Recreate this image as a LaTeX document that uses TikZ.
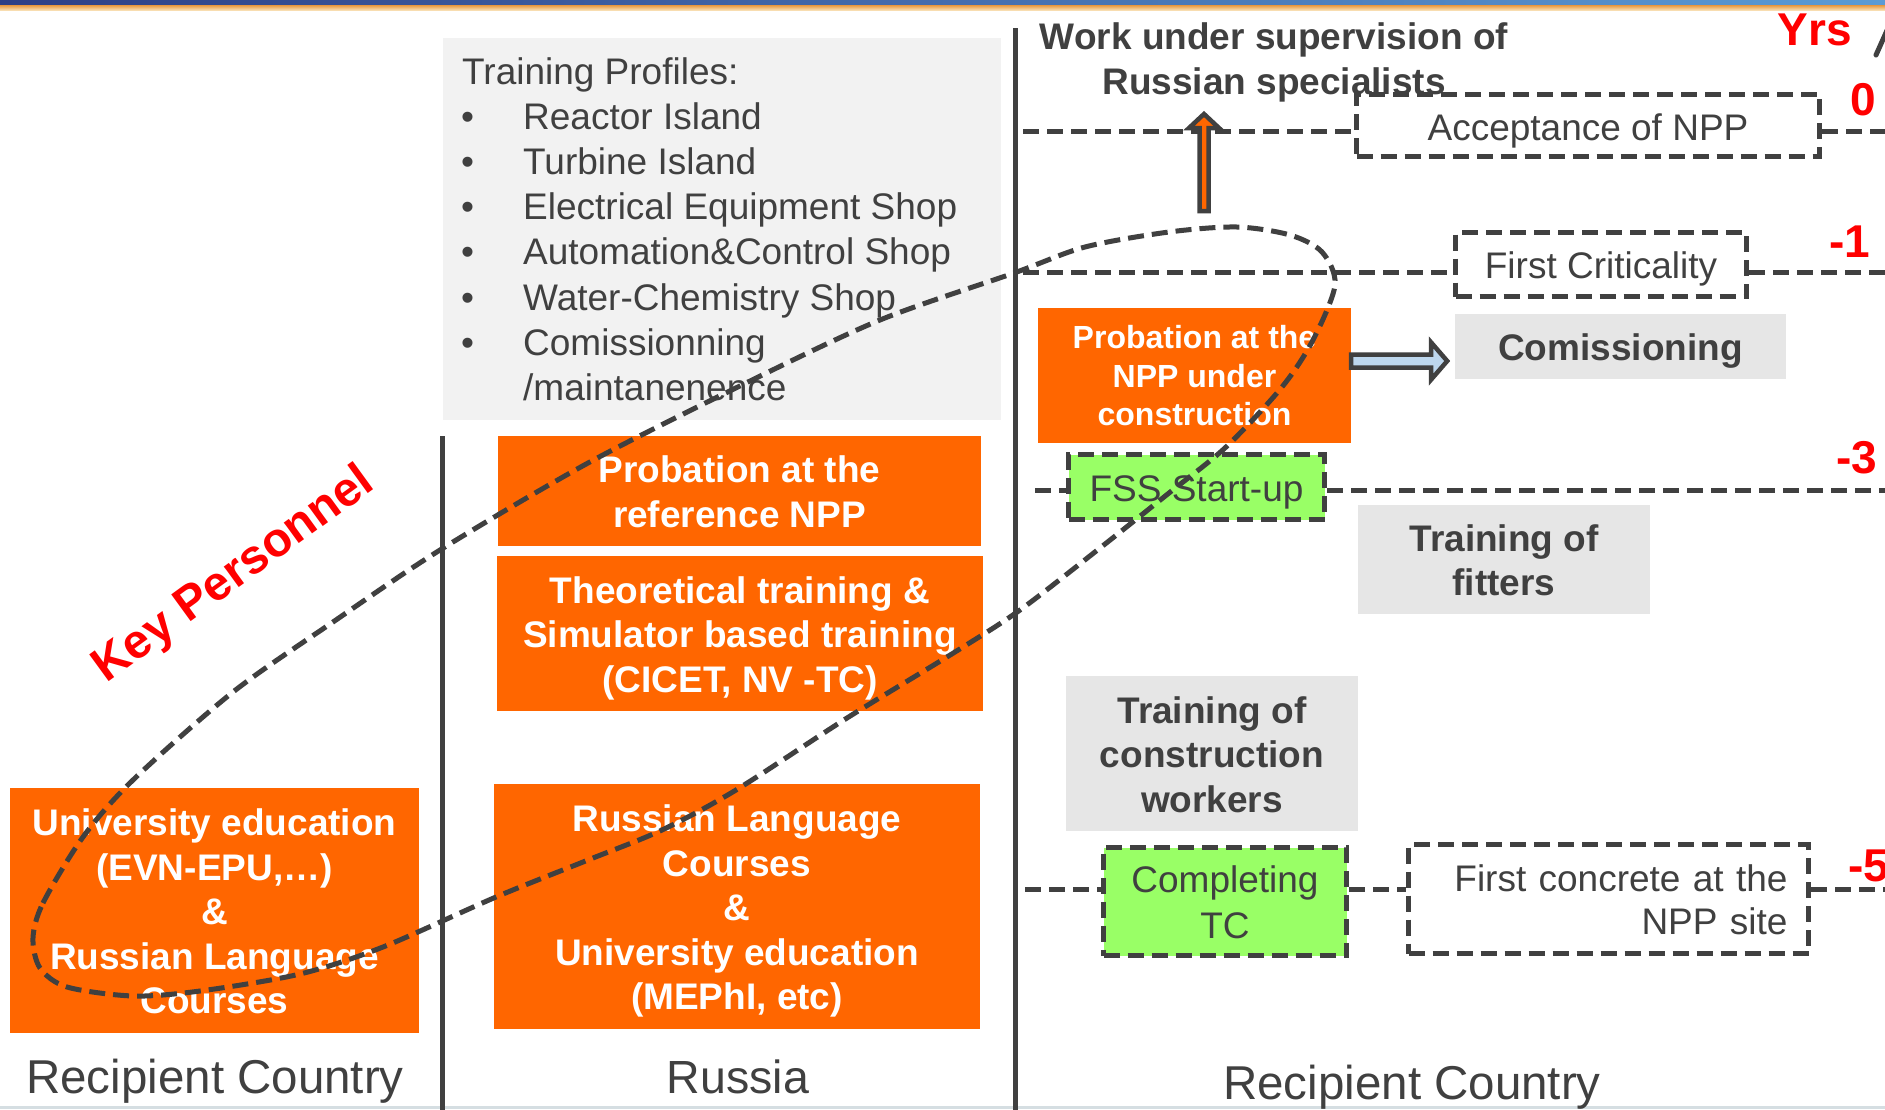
\documentclass[tikz,border=0pt]{standalone}
\usepackage{fontspec}
\setmainfont{Liberation Sans}
\usetikzlibrary{calc}
\definecolor{orng}{HTML}{FF6600}
\definecolor{dgray}{HTML}{404040}
\definecolor{lgray}{HTML}{E6E6E6}
\definecolor{pgray}{HTML}{F2F2F2}
\definecolor{lgreen}{HTML}{99FF66}
\definecolor{lblue}{HTML}{BDD7EE}
\definecolor{yrred}{HTML}{FF0000}
\definecolor{barnavy}{HTML}{2E3F86}
\definecolor{barblue}{HTML}{5B9BD5}
\definecolor{barorng}{HTML}{E8963C}
\definecolor{barlight}{HTML}{F8DDB0}
\definecolor{botline}{HTML}{D5DEE2}
\newcommand{\myfs}[2]{\fontsize{#1}{#2}\selectfont}
\newcommand{\ta}{\rule{0pt}{38pt}}
\newcommand{\tb}{\rule[-10pt]{0pt}{10pt}}
\newcommand{\tas}{\rule{0pt}{33pt}}
\begin{document}
\begin{tikzpicture}[x=1pt,y=-1pt,
  obox/.style={fill=orng, text=white, font=\bfseries\myfs{37}{44.5}, align=center, inner sep=0pt},
  gbox/.style={fill=lgray, text=dgray, font=\bfseries\myfs{37}{44.5}, align=center, inner sep=0pt},
  dbox/.style={draw=dgray, line width=5pt, dash pattern=on 16pt off 8pt, text=dgray, font=\myfs{37}{46}, align=center, inner sep=0pt},
  dline/.style={draw=dgray, line width=5pt, dash pattern=on 16pt off 8pt},
  vline/.style={draw=dgray, line width=5pt},
  yr/.style={text=yrred, font=\bfseries\myfs{46}{50}, inner sep=0pt},
  lbl/.style={text=dgray, font=\myfs{47.5}{50}, inner sep=0pt},
  prof/.style={text=dgray, font=\myfs{37}{45}, inner sep=0pt, anchor=base west}]
\useasboundingbox (0,0) rectangle (1885,1109);
\clip (0,0) rectangle (1885,1109);
\fill[white] (0,0) rectangle (1885,1109);
% top bar
\shade[left color=barnavy, right color=barblue] (0,0) rectangle (1885,5);
\shade[top color=barorng, bottom color=barlight] (0,5) rectangle (1885,10);
\fill[botline] (0,1106) rectangle (1885,1109);

% vertical separators
\coordinate (v1t) at (442,436); \coordinate (v1b) at (442,1112);
\coordinate (v2t) at (1015,28); \coordinate (v2b) at (1015,1112);
\draw[vline] (v1t) -- (v1b);
\draw[vline] (v2t) -- (v2b);

% boxes (right column)
\node[dbox, minimum width=463pt, minimum height=62pt] (accept) at (1588,125) {\rule{0pt}{40pt}Acceptance of NPP\tb};
\node[dbox, minimum width=291pt, minimum height=64pt] (crit) at (1601,264.5) {\ta First Criticality\tb};
\node[dbox, fill=lgreen, minimum width=256pt, minimum height=65pt] (fss) at (1196.5,487) {\rule{0pt}{39pt}FSS Start-up\tb};
\node[dbox, fill=lgreen, minimum width=243pt, minimum height=108pt] (ctc) at (1225,901.5) {\ta Completing\\TC\tb};
\node[dbox, font=\myfs{37}{43.5}, minimum width=400pt, minimum height=109pt, text width=358pt, inner xsep=21pt, align=right] (fconc) at (1608.5,899) {\ta First concrete at the\\NPP site\tb};

% year lines
\coordinate (h0a) at (1023,131); \coordinate (h0b) at (1890,131);
\coordinate (h1a) at (1023,272); \coordinate (h1b) at (1890,272);
\coordinate (h3a) at (1035,490); \coordinate (h3b) at (1890,490);
\coordinate (h5a) at (1025,889); \coordinate (h5b) at (1890,889);
\draw[dline] (h0a) -- (h0a -| accept.west);
\draw[dline] (h0b -| accept.east) -- (h0b);
\draw[dline] (h1a) -- (h1a -| crit.west);
\draw[dline] (h1b -| crit.east) -- (h1b);
\draw[dline] (h3a) -- (h3a -| fss.west);
\draw[dline] (h3b -| fss.east) -- (h3b);
\draw[dline] (h5a) -- (h5a -| ctc.west);
\draw[dline] (h5a -| ctc.east) -- (h5a -| fconc.west);
\draw[dline] (h5b -| fconc.east) -- (h5b);

\node[obox, font=\bfseries\myfs{32}{38.5}, minimum width=313pt, minimum height=135pt] (probc) at (1194.5,375.5) {\tas Probation at the\\NPP under\\construction\tb};
\node[gbox, minimum width=331pt, minimum height=65pt] (comm) at (1620.5,346.5) {\ta Comissioning\tb};
\node[gbox, font=\bfseries\myfs{37}{43.5}, minimum width=292pt, minimum height=109pt] (fitters) at (1504,559.5) {\ta Training of\\fitters\tb};
\node[gbox, minimum width=292pt, minimum height=155pt] (cworkers) at (1212,753.5) {\ta Training of\\construction\\workers\tb};

\node[font=\bfseries\myfs{37}{45}, text=dgray, align=center, inner sep=0pt] (work) at (1274,62.5) {Work under supervision of\\Russian specialists};
\node[yr, anchor=base] (yrs) at (1815,45) {Yrs};
\node[yr] (y0) at (1863,100) {0};
\node[yr] (y1) at (1850,242) {-1};
\node[yr] (y3) at (1857,458) {-3};
\node[yr] (y5) at (1869,866) {-5};
\coordinate (sl1) at (1876,55); \coordinate (sl2) at (1893,17);
\draw[dgray, line width=5pt, line cap=round] (sl1) -- (sl2);

% profiles
\node[fill=pgray, minimum width=558pt, minimum height=382pt, inner sep=0pt] (prof) at (721.5,229) {};
\node[prof] (p0) at (462,84) {Training Profiles:};
\node[prof] (p1) at (461,129.2) {\makebox[62pt][l]{•}Reactor Island};
\node[prof] (p2) at (461,174.4) {\makebox[62pt][l]{•}Turbine Island};
\node[prof] (p3) at (461,219.6) {\makebox[62pt][l]{•}Electrical Equipment Shop};
\node[prof] (p4) at (461,264.8) {\makebox[62pt][l]{•}Automation\&Control Shop};
\node[prof] (p5) at (461,310) {\makebox[62pt][l]{•}Water-Chemistry Shop};
\node[prof] (p6) at (461,355.2) {\makebox[62pt][l]{•}Comissionning};
\node[prof] (p7) at (523,400.4) {/maintanenence};

% Russia column
\node[obox, minimum width=483pt, minimum height=110pt] (refnpp) at (739.5,491) {\ta Probation at the\\reference NPP\tb};
\node[obox, minimum width=486pt, minimum height=155pt] (theor) at (740,633.5) {\ta Theoretical training \&\\Simulator based training\\(CICET, NV -TC)\tb};
\node[obox, minimum width=486pt, minimum height=245pt] (rlang) at (737,906.5) {\ta Russian Language\\Courses\\\&\\University education\\(MEPhI, etc)\tb};
\node[lbl, font=\myfs{46.5}{50}, anchor=base] (russia) at (738,1093) {Russia};

% left column
\node[obox, minimum width=409pt, minimum height=245pt] (univ) at (214.5,910.5) {\ta University education\\(EVN-EPU,…)\\\&\\Russian Language\\Courses\tb};
\node[lbl, anchor=base] (rc1) at (215,1093) {Recipient Country};
\node[lbl, anchor=base] (rc2) at (1412,1099) {Recipient Country};
\node[text=yrred, font=\bfseries\myfs{48}{55}, rotate=36, inner sep=0pt] (key) at (234.5,575.5) {Key Personnel};

% arrows
\coordinate (oa) at (1204,211);
\filldraw[fill=orng, draw=dgray, line width=4.5pt, shift={(oa)}]
  (-4.5,0) -- (-4.5,-83) -- (-15,-83) -- (0,-97) -- (15,-83) -- (4.5,-83) -- (4.5,0) -- cycle;
\coordinate (ca) at ($(probc.east |- 0,361)$);
\filldraw[fill=lblue, draw=dgray, line width=4.5pt, shift={(ca)}]
  (0,-6.5) -- (80,-6.5) -- (80,-18.5) -- (96,0) -- (80,18.5) -- (80,6.5) -- (0,6.5) -- cycle;

% key personnel loop
\draw[dline] plot[smooth cycle] coordinates {
 (33,938) (43,903) (83,837) (133,780) (233,692) (333,622) (440,550) (588,463)
 (746,383) (880,320) (1014,273) (1085,247) (1169,232) (1237,227) (1290,235)
 (1322,252) (1335,285) (1313,340) (1282,387) (1226,447) (1169,493) (1100,548)
 (1020,610) (955,652) (847,718) (736,790) (662,830) (588,860) (496,897)
 (383,947) (300,974) (200,991) (133,996) (67,987) (40,968)};
\end{tikzpicture}
\end{document}
